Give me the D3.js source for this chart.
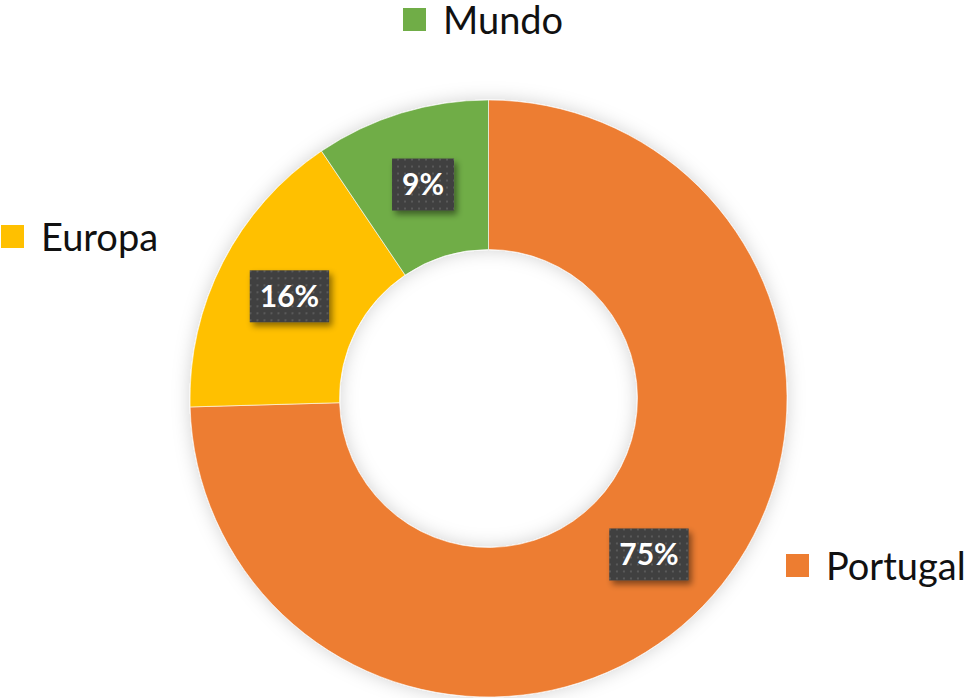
<!DOCTYPE html>
<html lang="pt">
<head>
<meta charset="UTF-8">
<title>Donut</title>
<script src="https://cdn.jsdelivr.net/npm/d3@7"></script>
<style>
  body { margin: 0; background: #fff; }
  .legend text { font-family: Lato, "Open Sans", sans-serif; font-size: 38px; fill: #111; }
  .lbl text { font-family: Lato, "Open Sans", sans-serif; font-size: 30px; font-weight: bold; fill: #fff; }
</style>
</head>
<body>
<svg width="968" height="698"></svg>
<script>
// data
var regions = ["Portugal", "Europa", "Mundo"];
var shares = [74.55, 16.0, 9.45];
var colors = ["#ED7D31", "#FFC000", "#70AD47"];

var svg = d3.select("svg");
var cx = 488.5, cy = 398.5, outerR = 298.5, innerR = 149;

var defs = svg.append("defs");
var sh = defs.append("filter").attr("id", "ringShadow")
  .attr("x", "-20%").attr("y", "-20%").attr("width", "140%").attr("height", "140%");
sh.append("feDropShadow").attr("dx", 0).attr("dy", 0)
  .attr("stdDeviation", 9).attr("flood-color", "#000").attr("flood-opacity", 0.18);

var bs = defs.append("filter").attr("id", "boxShadow")
  .attr("x", "-30%").attr("y", "-30%").attr("width", "170%").attr("height", "170%");
bs.append("feDropShadow").attr("dx", 3).attr("dy", 4)
  .attr("stdDeviation", 3).attr("flood-color", "#000").attr("flood-opacity", 0.45);

var pat = defs.append("pattern").attr("id", "dots")
  .attr("width", 7).attr("height", 7).attr("patternUnits", "userSpaceOnUse");
pat.append("rect").attr("width", 7).attr("height", 7).attr("fill", "#404040");
pat.append("rect").attr("x", 2).attr("y", 2).attr("width", 2).attr("height", 2).attr("fill", "#5a5a5a");

var pie = d3.pie().sort(null).value(function(d) { return d; });
var arcs = pie(shares);
var arc = d3.arc().innerRadius(innerR).outerRadius(outerR);

var g = svg.append("g").attr("transform", "translate(" + cx + "," + cy + ")");

g.append("g").attr("filter", "url(#ringShadow)")
  .selectAll("path").data(arcs).enter().append("path")
  .attr("d", arc)
  .attr("fill", function(d, i) { return colors[i]; })
  .attr("stroke", "#fff").attr("stroke-width", 0.6);

// value labels at mid radius
var mid = d3.arc().innerRadius((innerR + outerR) / 2).outerRadius((innerR + outerR) / 2);
var lbl = g.selectAll(".lbl").data(arcs).enter().append("g")
  .attr("class", "lbl")
  .attr("transform", function(d) { var c = mid.centroid(d); return "translate(" + c[0] + "," + c[1] + ")"; });

lbl.append("text")
  .attr("text-anchor", "middle").attr("dy", "0.36em")
  .text(function(d) { return Math.round(d.value) + "%"; })
  .each(function() {
    var b = this.getBBox();
    var w = b.width + 20, h = 52;
    d3.select(this.parentNode).insert("rect", "text")
      .attr("x", -w / 2).attr("y", -h / 2).attr("width", w).attr("height", h)
      .attr("fill", "url(#dots)").attr("filter", "url(#boxShadow)");
  });

// legend entries placed next to their slices
var legendPos = [
  {x: 786, y: 554},
  {x: 1, y: 225},
  {x: 403, y: 8}
];
var leg = svg.selectAll(".legend").data(regions).enter().append("g")
  .attr("class", "legend")
  .attr("transform", function(d, i) { return "translate(" + legendPos[i].x + "," + legendPos[i].y + ")"; });
leg.append("rect").attr("width", 23).attr("height", 23)
  .attr("fill", function(d, i) { return colors[i]; });
leg.append("text").attr("x", 40).attr("y", 26).text(function(d) { return d; });
</script>
</body>
</html>
